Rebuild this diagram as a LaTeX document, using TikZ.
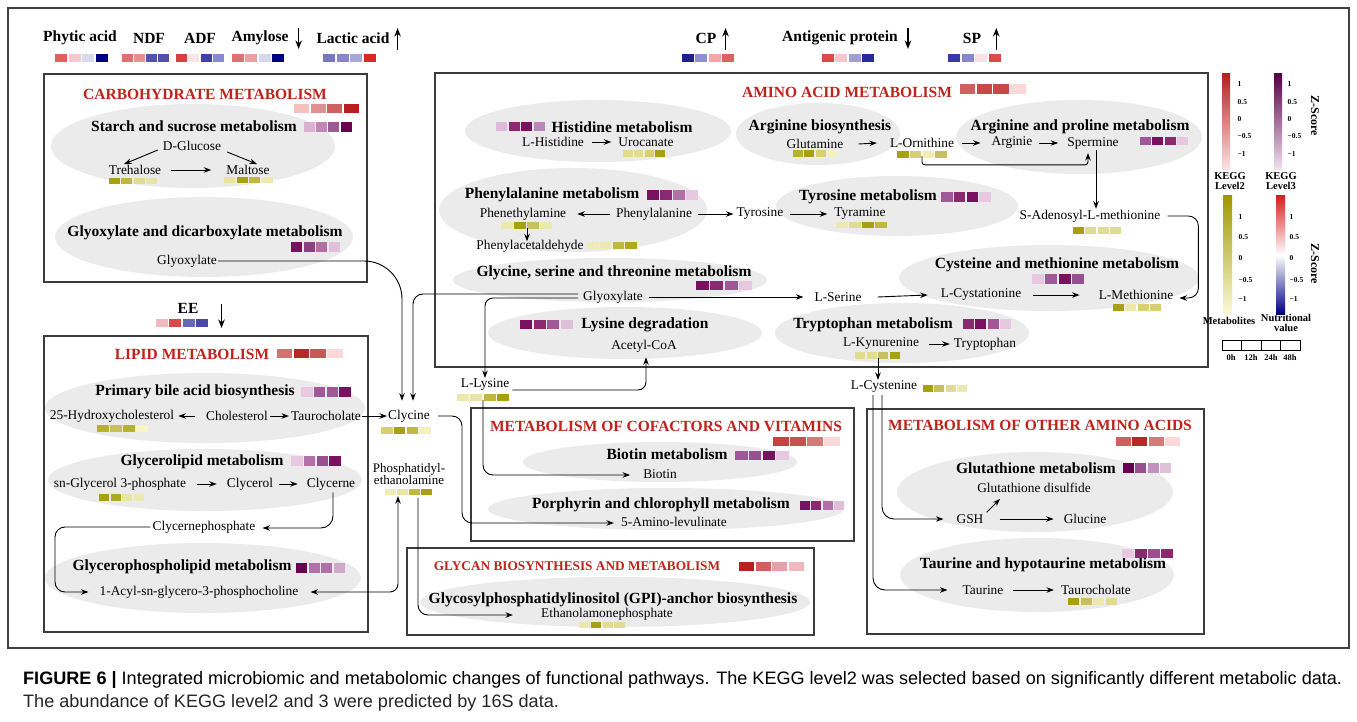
\documentclass[tikz,border=0pt]{standalone}
\usepackage{fontspec}
\setmainfont{Liberation Serif}
\newfontfamily\capfont{Liberation Sans}
\usetikzlibrary{arrows.meta}
\definecolor{tred}{HTML}{BE231C}
\definecolor{ellc}{HTML}{EBEBEB}
\definecolor{boxc}{HTML}{3C3C3C}
\definecolor{ltop}{HTML}{B82020}\definecolor{lbot}{HTML}{FCE4E4}
\definecolor{ptop}{HTML}{5A0048}\definecolor{pbot}{HTML}{F2E2F0}
\definecolor{ytop}{HTML}{A09800}\definecolor{ybot}{HTML}{FCFAD8}
\definecolor{nred}{HTML}{D82020}\definecolor{nblue}{HTML}{000080}
\newsavebox\capbox
\newcommand\hcells[8]{%
 \definecolor{hcA}{HTML}{#5}\definecolor{hcB}{HTML}{#6}\definecolor{hcC}{HTML}{#7}\definecolor{hcD}{HTML}{#8}%
 \fill[hcA] (#1,#2) rectangle ++(#3-1.3,#4);
 \fill[hcB] (#1+#3,#2) rectangle ++(#3-1.3,#4);
 \fill[hcC] (#1+2*#3,#2) rectangle ++(#3-1.3,#4);
 \fill[hcD] (#1+3*#3,#2) rectangle ++(#3-1.3,#4);}
\tikzset{
 met/.style={font=\fontsize{13.4}{15}\selectfont, inner sep=1pt},
 ttl/.style={font=\fontsize{15.5}{17}\selectfont\bfseries, inner sep=1pt},
 rtl/.style={font=\fontsize{15.5}{17}\selectfont\bfseries, text=tred, inner sep=1pt},
 lab/.style={font=\fontsize{15.5}{17}\selectfont\bfseries, inner sep=1pt},
 leg/.style={font=\fontsize{7.5}{8}\selectfont\bfseries, inner sep=0.5pt, anchor=west},
 legl/.style={font=\fontsize{10.5}{9.5}\selectfont\bfseries, inner sep=0.5pt, align=center},
 pbox/.style={draw=boxc, line width=1.3pt},
 ellf/.style={fill=ellc},
 arr/.style={-{Stealth[length=7.5pt,width=5.5pt]}, line width=0.9pt},
 tarr/.style={-{Stealth[length=8.5pt,width=6.5pt]}, line width=1.4pt},
 con/.style={line width=0.9pt, rounded corners=9pt},
}
\begin{document}
\sbox\capbox{\capfont\fontsize{18}{21}\selectfont\textbf{FIGURE 6 |} Integrated microbiomic and metabolomic changes of functional pathways. The KEGG level2 was selected based on significantly different metabolic data.}%
\pgfmathsetmacro\capsc{1319/\wd\capbox}%
\begin{tikzpicture}[x=1pt,y=-1pt]
\useasboundingbox (0,0) rectangle (1357,722);
\fill[white] (0,0) rectangle (1357,722);
\draw[line width=1.2pt, draw=black!75] (8,8) rectangle (1349,648);

% ---------- ellipses ----------
\fill[ellc] (193,146) ellipse [x radius=142, y radius=42];
\fill[ellc] (204,237) ellipse [x radius=149, y radius=40];
\fill[ellc] (205,408) ellipse [x radius=160, y radius=35];
\fill[ellc] (205,480) ellipse [x radius=157, y radius=31];
\fill[ellc] (203,578) ellipse [x radius=158, y radius=35];
\fill[ellc] (598,131) ellipse [x radius=133, y radius=31];
\fill[ellc] (818,134) ellipse [x radius=82, y radius=31];
\fill[ellc] (1079,137) ellipse [x radius=123, y radius=37];
\fill[ellc] (573,210) ellipse [x radius=134, y radius=42];
\fill[ellc] (897,206) ellipse [x radius=121, y radius=30];
\fill[ellc] (610,280) ellipse [x radius=157, y radius=22];
\fill[ellc] (1049,278) ellipse [x radius=150, y radius=33];
\fill[ellc] (625,333) ellipse [x radius=137, y radius=26];
\fill[ellc] (902,333) ellipse [x radius=127, y radius=30];
\fill[ellc] (660,462) ellipse [x radius=137, y radius=20];
\fill[ellc] (666,509) ellipse [x radius=178, y radius=21];
\fill[ellc] (615,602) ellipse [x radius=195, y radius=25];
\fill[ellc] (1035,492) ellipse [x radius=138, y radius=40];
\fill[ellc] (1037,575) ellipse [x radius=137, y radius=37];

% ---------- boxes ----------
\draw[pbox] (44,74) rectangle (367,282);
\draw[pbox] (44,336) rectangle (368,632);
\draw[pbox] (435,73) rectangle (1208,367);
\draw[pbox] (471,408) rectangle (854,541);
\draw[pbox] (407,548) rectangle (814,635);
\draw[pbox] (867,409) rectangle (1204,634);

% ---------- top labels ----------
\node[lab] (phy) at (80,38) {Phytic acid};
\node[lab] (ndf) at (149,38) {NDF};
\node[lab] (adf) at (200,38) {ADF};
\node[lab] (amy) at (260,38) {Amylose};
\node[lab] (lac) at (353,38) {Lactic acid};
\node[lab] (cp) at (706,38) {CP};
\node[lab] (ant) at (840,38) {Antigenic protein};
\node[lab] (sp) at (972,38) {SP};
\node[lab] (ee) at (188,308) {EE};
\draw[tarr] ([shift={(9,-10)}]amy.east) -- ([shift={(9,11)}]amy.east);
\draw[tarr] ([shift={(7,12)}]lac.east) -- ([shift={(7,-10)}]lac.east);
\draw[tarr] ([shift={(8,12)}]cp.east) -- ([shift={(8,-10)}]cp.east);
\draw[tarr] ([shift={(9,-10)}]ant.east) -- ([shift={(9,11)}]ant.east);
\draw[tarr] ([shift={(14,12)}]sp.east) -- ([shift={(14,-10)}]sp.east);
\draw[tarr] ([shift={(22,-4)}]ee.east) -- ([shift={(22,20)}]ee.east);
\hcells{55}{54}{13.5}{8}{E06060}{F4C8CC}{D8D8EE}{000080}
\hcells{122}{54}{12}{8}{E07070}{E89090}{5050B0}{5050B0}
\hcells{176}{54}{12.3}{8}{D84040}{FBE4E6}{4040A8}{8888CC}
\hcells{232}{54}{13.3}{8}{E07070}{E8A0A0}{D8D8EC}{000080}
\hcells{323}{54}{13.5}{8}{7878C0}{8888C8}{A8A8D8}{D82828}
\hcells{682}{54}{13.3}{8}{202090}{9090CC}{F0A8A8}{E06060}
\hcells{822}{54}{13.3}{8}{E04848}{F4C8CC}{A0A0D0}{2828A0}
\hcells{948}{54}{13.5}{8}{3838A8}{8888C8}{F8E0E4}{E04848}
\hcells{156}{319}{13.3}{8}{F0B8C0}{D84850}{6868B8}{4848A8}

% ---------- level-2 titles ----------
\node[rtl] (carbT) at (205,94) {CARBOHYDRATE METABOLISM};
\hcells{294}{104}{16.5}{9}{F5C0C0}{E09090}{D06060}{B82020}
\node[rtl] (lipT) at (192,354) {LIPID METABOLISM};
\hcells{277}{349}{16.7}{9}{D87070}{B82828}{C85858}{FCD8D8}
\node[rtl] (aminoT) at (847,92) {AMINO ACID METABOLISM};
\hcells{960}{84}{16.7}{10}{D06060}{C84848}{C84848}{FCD8D8}
\node[rtl] (cofT) at (666,426) {METABOLISM OF COFACTORS AND VITAMINS};
\hcells{773}{437}{17}{9}{C84040}{C85050}{D87878}{FCD8D8}
\node[rtl, font=\fontsize{13.3}{15}\selectfont\bfseries] (glyT) at (577,566) {GLYCAN BIOSYNTHESIS AND METABOLISM};
\hcells{739}{562}{16.5}{9}{B82020}{D06060}{E8A0A8}{F0B8C0}
\node[rtl] (othT) at (1040,425) {METABOLISM OF OTHER AMINO ACIDS};
\hcells{1116}{437}{16.3}{9}{D06060}{B82828}{D87878}{FCD8D8}

% ---------- level-3 titles ----------
\node[ttl] (starchT) at (194,126) {Starch and sucrose metabolism};
\hcells{304}{122}{12.2}{10}{D8B0D0}{C088B8}{A05898}{6A0050}
\node[ttl] (glyoxT) at (205,233) {Glyoxylate and dicarboxylate metabolism};
\hcells{291}{242}{12.5}{10}{7A1060}{904080}{B070A0}{E0C0D8}
\node[ttl] (bileT) at (195,392) {Primary bile acid biosynthesis};
\hcells{301}{387}{12.8}{10}{E8C8E0}{A05898}{A05898}{7A1060}
\node[ttl] (glT) at (202,462) {Glycerolipid metabolism};
\hcells{291}{456}{12.8}{9.5}{E8C8E0}{B070A8}{985090}{7A1060}
\node[ttl] (gpT) at (182,567) {Glycerophospholipid metabolism};
\hcells{296}{563}{12.5}{10}{6A0050}{B070A8}{B070A8}{D0A8C8}
\node[ttl] (hisT) at (622,127) {Histidine metabolism};
\hcells{496}{122}{12.5}{9.5}{E0B8D8}{8A2870}{7A1060}{B888B8}
\node[ttl] (argbT) at (820,127) {Arginine biosynthesis};
\node[ttl] (argpT) at (1080,127) {Arginine and proline metabolism};
\hcells{1140}{137}{12.3}{8.5}{A05898}{7A1060}{8A2870}{E8C8E0}
\node[ttl] (pheT) at (552,195) {Phenylalanine metabolism};
\hcells{647}{190}{13}{10}{7A1060}{8A2870}{B070A8}{E8C8E0}
\node[ttl] (tyrT) at (868,197) {Tyrosine metabolism};
\hcells{941}{192}{12.8}{10}{A05898}{8A2870}{7A1060}{E8C8E0}
\node[ttl] (glysT) at (614,273) {Glycine, serine and threonine metabolism};
\hcells{696}{281}{14.3}{8.5}{7A1060}{8A2870}{A05898}{E8C8E0}
\node[ttl] (cysT) at (1057,265) {Cysteine and methionine metabolism};
\hcells{1032}{274}{13.3}{10}{E8C8E0}{A05898}{7A1060}{985090}
\node[ttl] (lysT) at (645,325) {Lysine degradation};
\hcells{520}{320}{13.5}{8.5}{7A1060}{8A2870}{A05898}{E0C0D8}
\node[ttl] (trpT) at (873,325) {Tryptophan metabolism};
\hcells{963}{319}{12.3}{10}{8A2870}{7A1060}{A05898}{E8C8E0}
\node[ttl] (bioT) at (667,454) {Biotin metabolism};
\hcells{735}{451}{13.8}{9}{A05898}{985090}{7A1060}{E8C8E0}
\node[ttl] (porT) at (661,505) {Porphyrin and chlorophyll metabolism};
\hcells{800}{501}{11.3}{8.5}{7A1060}{8A2870}{B070A8}{E0C0D8}
\node[ttl] (gpiT) at (613,600) {Glycosylphosphatidylinositol (GPI)-anchor biosynthesis};
\node[ttl] (gluT) at (1036,468) {Glutathione metabolism};
\hcells{1123}{463}{12.3}{10}{6A0050}{985090}{C090C0}{E0C0D8}
\node[ttl] (tauT) at (1043,565) {Taurine and hypotaurine metabolism};
\hcells{1122}{549}{13}{9}{E8C8E0}{8A2870}{985090}{8A2870}

% ---------- metabolites ----------
\node[met] (glc) at (192,146) {D-Glucose};
\node[met] (tre) at (135,170) {Trehalose};
\hcells{109}{178}{12.3}{6.5}{A8A010}{C0B840}{E0DC90}{E8E4A8}
\node[met] (mal) at (248,170) {Maltose};
\hcells{224}{177}{12.5}{6.5}{E8E4A0}{A8A010}{C0B840}{ECE8B0}
\node[met] (gx1) at (187,261) {Glyoxylate};
\node[met] (hyd) at (112,416) {25-Hydroxycholesterol};
\hcells{97}{425}{13}{6.5}{B8B030}{C8C060}{B8B030}{F8F4C8}
\node[met] (cho) at (237,416) {Cholesterol};
\node[met] (tau1) at (326,416) {Taurocholate};
\node[met] (cly) at (409,416) {Clycine};
\hcells{381}{427}{12.8}{6.5}{D8D070}{A8A010}{C0B840}{F4F0C0}
\node[met] (sng) at (120,484) {sn-Glycerol 3-phosphate};
\hcells{99}{494}{11.5}{6.5}{A8A010}{B0A820}{E8E4A8}{ECE8B0}
\node[met] (clyc) at (250,484) {Clycerol};
\node[met] (clyn) at (331,484) {Clycerne};
\node[met] (cphos) at (204,527) {Clycernephosphate};
\node[met] (acyl) at (199,592) {1-Acyl-sn-glycero-3-phosphocholine};
\node[met, align=center, font=\fontsize{13}{11.5}\selectfont] (pe) at (409,474) {Phosphatidyl-\\ethanolamine};
\hcells{385}{489}{12}{6}{F0ECB8}{E8E4A8}{C0B840}{A8A010}
\node[met] (lys) at (485,385) {L-Lysine};
\hcells{457}{394}{13.3}{6.5}{ECE8B0}{E8E4A8}{C0B840}{A8A010}
\node[met] (lhis) at (553,142) {L-Histidine};
\node[met] (uro) at (646,142) {Urocanate};
\hcells{623}{150}{10.8}{7}{E0DC90}{E0DC90}{D8D070}{A8A010}
\node[met] (glu) at (815,144) {Glutamine};
\hcells{793}{150}{11.3}{7}{B8B030}{A8A010}{D8D070}{F4F0C0}
\node[met] (orn) at (922,143) {L-Ornithine};
\hcells{897}{151}{12.8}{7}{A8A010}{D8D070}{F0ECB8}{C8C060}
\node[met] (argi) at (1012,143) {Arginie};
\node[met] (spm) at (1093,143) {Spermine};
\node[met] (phea) at (523,214) {Phenethylamine};
\hcells{501}{222}{13}{7}{ECE8B0}{A8A010}{C8C060}{ECE8B0}
\node[met] (phe) at (654,214) {Phenylalanine};
\node[met] (tyro) at (760,214) {Tyrosine};
\node[met] (tyra) at (860,214) {Tyramine};
\hcells{836}{222}{13}{6.5}{ECE8B0}{E0DC90}{A8A010}{C0B840}
\node[met] (pacet) at (530,246) {Phenylacetaldehyde};
\hcells{587}{242}{12.8}{6.5}{F0ECB8}{ECE8B0}{C0B840}{B0A820}
\node[met] (sam) at (1090,216) {S-Adenosyl-L-methionine};
\hcells{1073}{227}{12.3}{6.5}{A8A010}{E0DC90}{E0DC90}{E0DC90}
\node[met] (gx2) at (613,297) {Glyoxylate};
\node[met] (ser) at (838,297) {L-Serine};
\node[met] (cyst) at (981,295) {L-Cystationine};
\node[met] (meth) at (1136,295) {L-Methionine};
\hcells{1113}{304}{12.3}{6.5}{A8A010}{ECE8B0}{D8D070}{D8D070}
\node[met] (acoa) at (644,346) {Acetyl-CoA};
\node[met] (kyn) at (881,344) {L-Kynurenine};
\hcells{855}{352}{11.5}{6.5}{E0DC90}{E0DC90}{C8C060}{A8A010}
\node[met] (trp) at (985,344) {Tryptophan};
\node[met] (lcys) at (884,387) {L-Cystenine};
\hcells{923}{385}{11.3}{6.5}{A8A010}{C8C060}{E0DC90}{ECE8B0}
\node[met] (bio) at (660,474) {Biotin};
\node[met] (ala) at (674,522) {5-Amino-levulinate};
\node[met] (eth) at (607,614) {Ethanolamonephosphate};
\hcells{579}{622}{11.8}{5.5}{ECE8B0}{A8A010}{E0DC90}{E0DC90}
\node[met] (gsd) at (1034,488) {Glutathione disulfide};
\node[met] (gsh) at (970,519) {GSH};
\node[met] (glcn) at (1085,519) {Glucine};
\node[met] (taur) at (983,590) {Taurine};
\node[met] (tau2) at (1096,590) {Taurocholate};
\hcells{1068}{598}{12.5}{7}{A8A010}{C8C060}{ECE8B0}{E0DC90}

% ---------- connectors ----------
\draw[arr] ([shift={(-4,4)}]glc.west) -- ([shift={(-11,0)}]tre.north);
\draw[arr] ([shift={(5,6)}]glc.east) -- ([shift={(9,0)}]mal.north);
\draw[arr] ([xshift=9]tre.east) -- ([xshift=-14]mal.west);
\draw[con,arr,rounded corners=38pt] (gx1.east) -| ([shift={(-7,-8)}]cly.north);
\draw[con,arr,rounded corners=10pt] ([shift={(-4,-3)}]gx2.west) -| ([shift={(4,-8)}]cly.north);
\draw[con,arr,rounded corners=8pt] ([shift={(-4,1)}]gx2.west) -| (lys.north);
\draw[arr] ([xshift=5]gx2.east) -- ([xshift=-10]ser.west);
\draw[arr] ([xshift=15]ser.east) -- ([xshift=-12]cyst.west);
\draw[arr] ([xshift=11]cyst.east) -- ([xshift=-18]meth.west);
\draw[con,arr,rounded corners=10pt] ([xshift=6]sam.east) -| ([shift={(24,3)}]meth.east) -- ([shift={(5,3)}]meth.east);
\draw[arr] ([xshift=3]spm.south) -- ([xshift=3]spm.south |- sam.north);
\draw[con,arr,rounded corners=3pt] ([shift={(0,7)}]orn.south) -- ([shift={(0,16)}]orn.south) -| ([shift={(-5,3)}]spm.south);
\draw[arr] ([xshift=14]glu.east) -- ([xshift=-12]orn.west);
\draw[arr] ([xshift=7]orn.east) -- ([xshift=-10]argi.west);
\draw[arr] ([xshift=5]argi.east) -- ([xshift=-8]spm.west);
\draw[arr] ([xshift=7]lhis.east) -- ([xshift=-6]uro.west);
\draw[arr] ([xshift=-5]phe.west) -- ([xshift=10]phea.east);
\draw[arr] ([xshift=5]phe.east) -- ([xshift=-2]tyro.west);
\draw[arr] ([xshift=5]tyro.east) -- ([xshift=-6]tyra.west);
\draw[arr] ([shift={(4,7)}]phea.south) -- ([shift={(4,20)}]phea.south);
\draw[con,arr,rounded corners=8pt] ([shift={(2,5)}]lys.east) -| ([shift={(2,4)}]acoa.south);
\draw[con,arr,rounded corners=10pt] ([shift={(-2,8)}]lys.south) |- ([shift={(-12,1)}]bio.west);
\draw[con,arr,rounded corners=10pt] ([xshift=7]cly.east) -- ++(24,0) |- ([shift={(-6,1)}]ala.west);
\draw[con,arr,rounded corners=10pt] ([shift={(9,12)}]pe.south) |- ([shift={(-27,1)}]eth.west);
\draw[con,{Stealth[length=7.5pt,width=5.5pt]}-{Stealth[length=7.5pt,width=5.5pt]},rounded corners=8pt] ([xshift=11]acyl.east) -| ([shift={(-11,10)}]pe.south);
\draw[arr] ([xshift=-10]cho.west) -- ([xshift=3]hyd.east);
\draw[arr] ([xshift=1]cho.east) -- ([xshift=-1]tau1.west);
\draw[arr] (tau1.east) -- (cly.west);
\draw[arr] ([xshift=10]sng.east) -- ([xshift=-9]clyc.west);
\draw[arr] ([xshift=5]clyc.east) -- ([xshift=-8]clyn.west);
\draw[con,arr,rounded corners=12pt] ([shift={(2,1)}]clyn.south) |- ([shift={(6,1)}]cphos.east);
\coordinate (bendL) at (55,560);
\draw[con,arr,rounded corners=10pt] ([xshift=-1]cphos.west) -| (bendL) |- ([xshift=-10]acyl.west);
\draw[con,arr,rounded corners=12pt] ([shift={(-2,1)}]lcys.south) |- ([shift={(-12,0)}]gsh.west);
\draw[con,arr,rounded corners=12pt] ([shift={(-11,1)}]lcys.south) |- ([shift={(-14,0)}]taur.west);
\draw[arr] ([shift={(2,-1)}]gsh.north east) -- ([shift={(-34,5)}]gsd.south);
\draw[arr] ([xshift=15]gsh.east) -- ([xshift=-9]glcn.west);
\draw[arr] ([xshift=8]taur.east) -- ([xshift=-6]tau2.west);
\draw[arr] ([xshift=9]kyn.east) -- ([xshift=-3]trp.west);
\draw[arr] ([shift={(-3,7)}]kyn.south) -- ([shift={(-6,0)}]lcys.north);

% ---------- legend ----------
\shade[top color=ltop, bottom color=lbot] (1222,74) rectangle (1230,170);
\shade[top color=ptop, bottom color=pbot] (1274,74) rectangle (1282,170);
\shade[top color=ytop, bottom color=ybot] (1223,196) rectangle (1232,314);
\shade[top color=nred, bottom color=white] (1276,196) rectangle (1285,255);
\shade[top color=white, bottom color=nblue] (1276,255) rectangle (1285,314);
\foreach \v/\yy [count=\i] in {1/84,0.5/102,0/119,−0.5/136,−1/154}{
  \node[leg] (lka\i) at (1237,\yy) {\v};
  \node[leg] (lkb\i) at (1287,\yy) {\v};}
\foreach \v/\yy [count=\i] in {1/217,0.5/237,0/258,−0.5/280,−1/299}{
  \node[leg] (lma\i) at (1238,\yy) {\v};
  \node[leg] (lmb\i) at (1289,\yy) {\v};}
\node[legl, rotate=-90, font=\fontsize{12}{12}\selectfont\bfseries] (zs1) at (1315,116) {Z-Score};
\node[legl, rotate=-90, font=\fontsize{12}{12}\selectfont\bfseries] (zs2) at (1315,264) {Z-Score};
\node[legl] (kl2) at (1230,181) {KEGG\\Level2};
\node[legl] (kl3) at (1281,181) {KEGG\\Level3};
\node[legl] (mlab) at (1229,321) {Metabolites};
\node[legl] (nlab) at (1286,323) {Nutritional\\value};
\draw[line width=0.8pt] (1222,340) rectangle (1300,350);
\foreach \xx in {1241.5,1261,1280.5} \draw[line width=0.8pt] (\xx,340) -- (\xx,350);
\foreach \t/\xx [count=\i] in {0h/1231,12h/1251,24h/1271,48h/1290}
  \node[legl, font=\fontsize{8.5}{9}\selectfont\bfseries] (tm\i) at (\xx,358) {\t};

% ---------- caption ----------
\node[anchor=west, inner sep=0pt, text=black!85] (cap1) at (23,680) {\scalebox{\capsc}[1]{\usebox\capbox}};
\node[anchor=west, inner sep=0pt, text=black!85] (cap2) at (23,703) {\scalebox{\capsc}[1]{\capfont\fontsize{18}{21}\selectfont The abundance of KEGG level2 and 3 were predicted by 16S data.}};
\end{tikzpicture}
\end{document}
